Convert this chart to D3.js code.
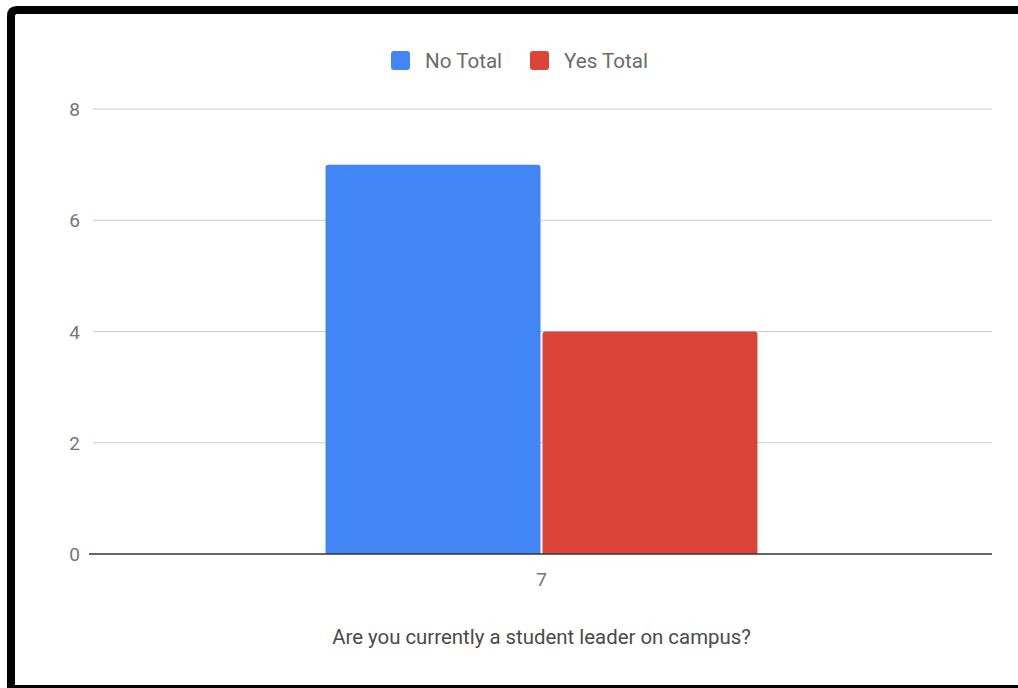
<!DOCTYPE html>
<html><head><meta charset="utf-8">
<script src="https://cdn.jsdelivr.net/npm/d3@7"></script>
<style>body{margin:0;background:#fff;}svg{display:block;font-family:Roboto,sans-serif;}</style>
</head><body>
<svg id="c" width="1018" height="688"></svg>
<script>
const categories = ["7"];
const seriesNames = ["No Total", "Yes Total"];
const noTotal = [7];
const yesTotal = [4];
const yTicks = [0, 2, 4, 6, 8];
const colors = ["#4285f4", "#db4437"];
const xTitle = "Are you currently a student leader on campus?";

(function () {
const svg = d3.select("#c");
// frame
svg.append("path")
  .attr("d", "M11,688 L11,16 Q11,10 17,10 L1018,10")
  .attr("fill", "none").attr("stroke", "#000").attr("stroke-width", 8);
svg.append("rect").attr("x", 7).attr("y", 685).attr("width", 1011).attr("height", 3).attr("fill", "#000");

const pLeft = 93, pRight = 992, pTop = 109, pBottom = 554;
const y = d3.scaleLinear().domain([0, 8]).range([pBottom, pTop]);
const x0 = d3.scaleBand().domain(categories).range([pLeft - 2, pRight]).paddingInner(0).paddingOuter(0.543);
const x1 = d3.scaleBand().domain(seriesNames).range([0, x0.bandwidth()]).padding(0);

// grid
svg.append("g").selectAll("line").data(yTicks.filter(d => d !== 0)).join("line")
  .attr("x1", pLeft).attr("x2", pRight)
  .attr("y1", d => y(d)).attr("y2", d => y(d))
  .attr("stroke", "#cccccc").attr("stroke-width", 1);

// y labels
const yAxis = d3.axisLeft(y).tickValues(yTicks).tickSize(0).tickPadding(0);
const ga = svg.append("g").attr("transform", `translate(${pLeft - 13},0)`).call(yAxis);
ga.select(".domain").remove();
ga.selectAll("text").attr("font-size", 19).attr("fill", "#757575").attr("font-family", "Roboto, sans-serif").attr("dy", "0.35em");

const data = categories.map((c, i) => ({ c, vals: [noTotal[i], yesTotal[i]] }));
const r = 3;
function topRounded(x, yTop, w, h) {
  return `M${x},${yTop + h} L${x},${yTop + r} Q${x},${yTop} ${x + r},${yTop} L${x + w - r},${yTop} Q${x + w},${yTop} ${x + w},${yTop + r} L${x + w},${yTop + h} Z`;
}
data.forEach(d => {
  d.vals.forEach((v, j) => {
    const bx = x0(d.c) + x1(seriesNames[j]);
    const bw = x1.bandwidth();
    svg.append("path")
      .attr("d", topRounded(bx + (j === 0 ? 0 : 1), y(v), bw - 1, y(0) - y(v)))
      .attr("fill", colors[j]);
  });
});

// baseline
svg.append("line").attr("x1", pLeft - 4).attr("x2", pRight).attr("y1", y(0)).attr("y2", y(0))
  .attr("stroke", "#333").attr("stroke-width", 1.5);

// x labels
const xAxis = d3.axisBottom(x0).tickSize(0).tickPadding(0);
const gx = svg.append("g").attr("transform", `translate(0,${y(0) + 32})`).call(xAxis);
gx.select(".domain").remove();
gx.selectAll("text").attr("font-size", 19).attr("fill", "#757575").attr("font-family", "Roboto, sans-serif").attr("dy", "0");

// x title
svg.append("text").attr("x", 541.5).attr("y", 644).attr("text-anchor", "middle")
  .attr("font-size", 20.4).attr("fill", "#4a4a4a").text(xTitle);

// legend
const leg = svg.append("g");
const legX = [391, 530];
seriesNames.forEach((s, i) => {
  leg.append("rect").attr("x", legX[i]).attr("y", 51).attr("width", 19).attr("height", 19).attr("rx", 3)
    .attr("fill", colors[i]);
  leg.append("text").attr("x", legX[i] + 34).attr("y", 68).attr("font-size", 20.6).attr("fill", "#6b6b6b").text(s);
});
})();
</script>
</body></html>
